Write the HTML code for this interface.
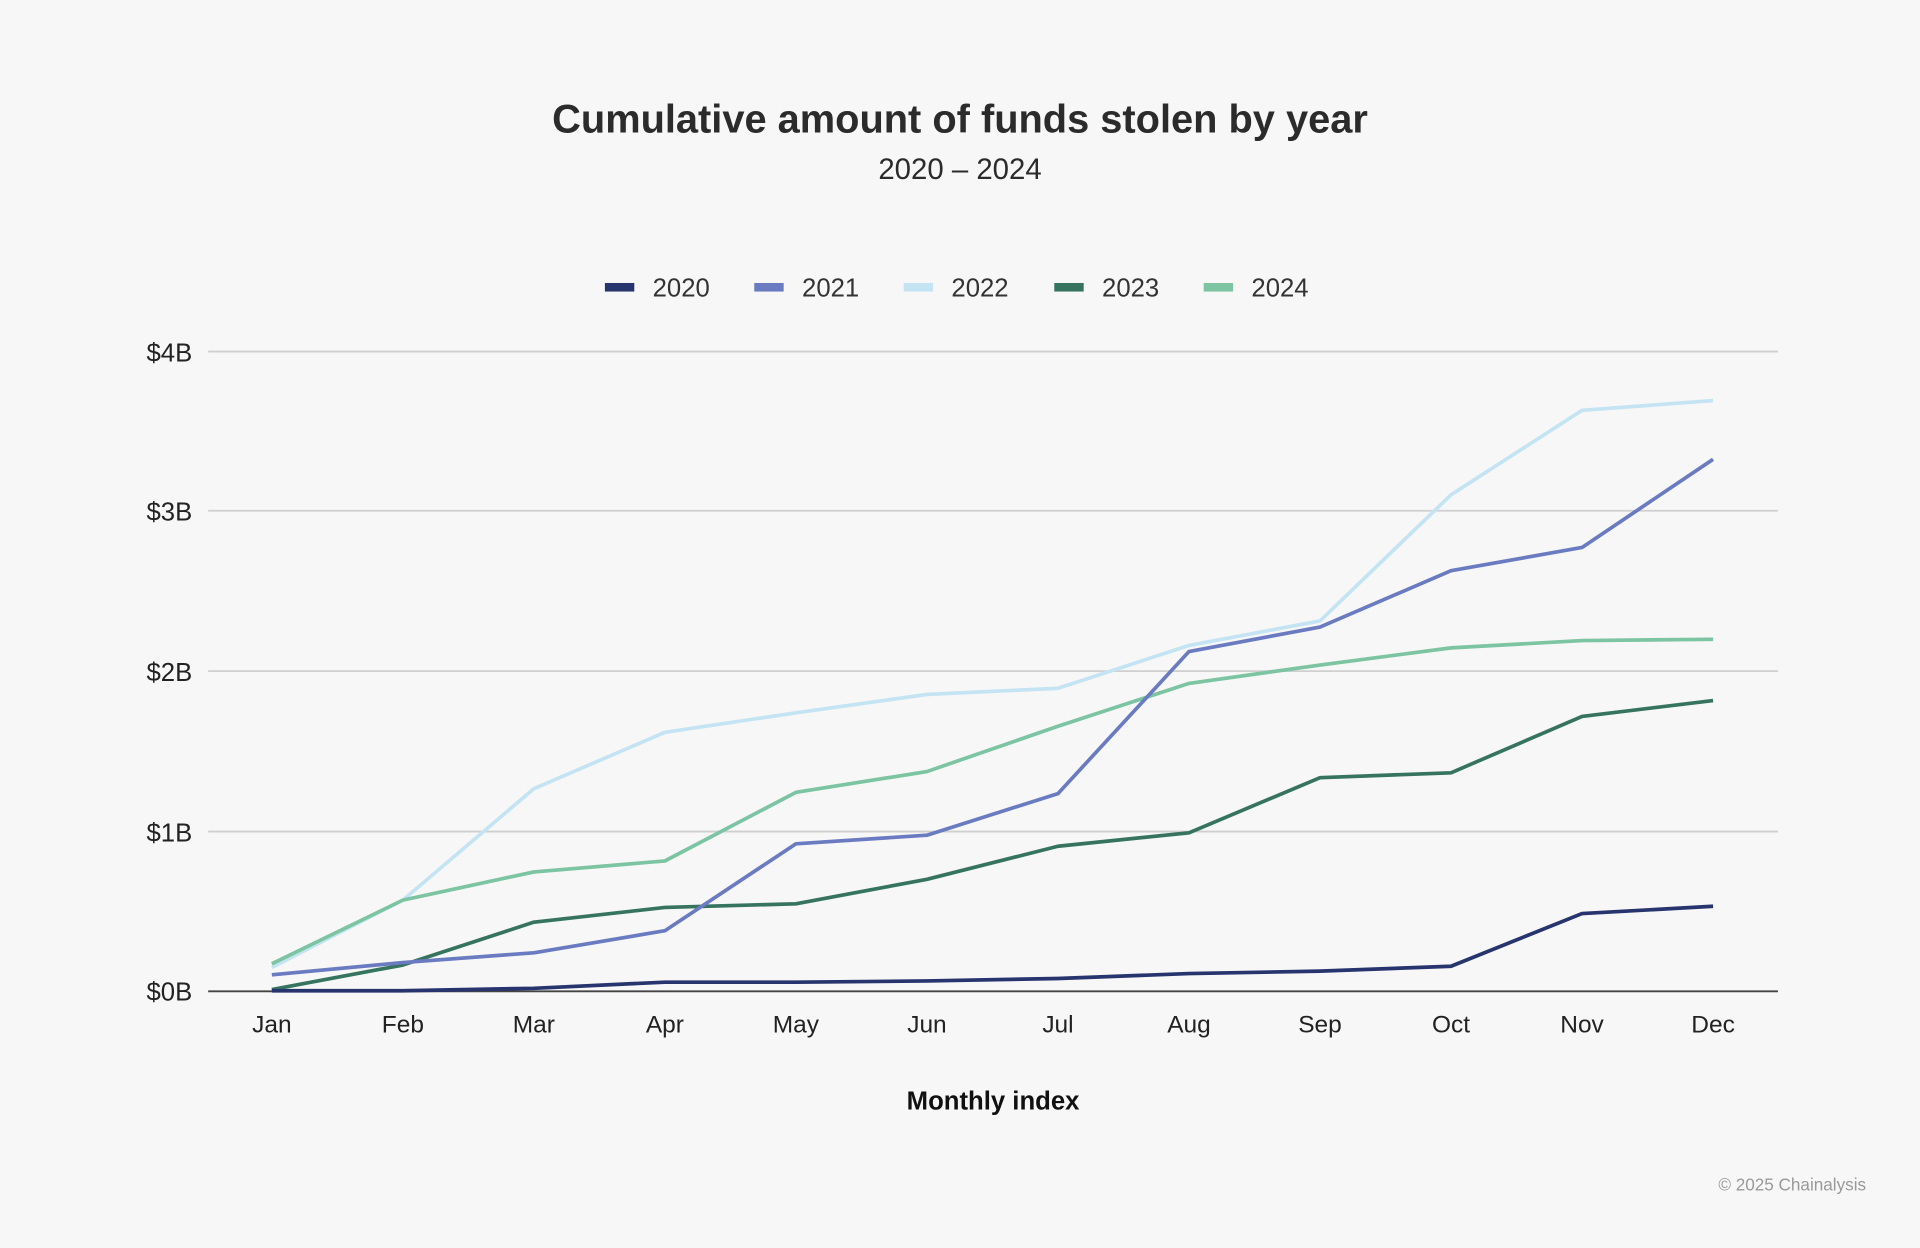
<!DOCTYPE html>
<html><head><meta charset="utf-8"><style>
html,body{margin:0;padding:0;background:#f7f7f7;}
svg{display:block;}
</style></head><body>
<svg width="1920" height="1248" viewBox="0 0 1568 1019" xmlns="http://www.w3.org/2000/svg">
<rect width="1568" height="1019" fill="#f7f7f7"/>
<text x="784" y="108" text-anchor="middle" font-family="Liberation Sans, sans-serif" font-weight="bold" font-size="32.5" fill="#2b2b2b">Cumulative amount of funds stolen by year</text>
<text x="784" y="146" text-anchor="middle" font-family="Liberation Sans, sans-serif" font-size="24" fill="#2b2b2b">2020 – 2024</text>
<g font-family="Liberation Sans, sans-serif" font-size="21" fill="#333">
<rect x="494" y="231" width="24" height="7" fill="#27346e"/><text x="533" y="242">2020</text>
<rect x="616" y="231" width="24" height="7" fill="#6a7bc1"/><text x="655" y="242">2021</text>
<rect x="738" y="231" width="24" height="7" fill="#c4e4f3"/><text x="777" y="242">2022</text>
<rect x="861" y="231" width="24" height="7" fill="#367460"/><text x="900" y="242">2023</text>
<rect x="983" y="231" width="24" height="7" fill="#7cc4a2"/><text x="1022" y="242">2024</text>
</g>
<g stroke="#cfcfcf" stroke-width="1.5">
<line x1="170" y1="287" x2="1452" y2="287"/>
<line x1="170" y1="417" x2="1452" y2="417"/>
<line x1="170" y1="548" x2="1452" y2="548"/>
<line x1="170" y1="679" x2="1452" y2="679"/>
</g>
<line x1="170" y1="809.5" x2="1452" y2="809.5" stroke="#444" stroke-width="1.5"/>
<g font-family="Liberation Sans, sans-serif" font-size="21" fill="#222" text-anchor="end">
<text x="157" y="295">$4B</text><text x="157" y="425">$3B</text><text x="157" y="556">$2B</text><text x="157" y="687">$1B</text><text x="157" y="817">$0B</text>
</g>
<g font-family="Liberation Sans, sans-serif" font-size="20" fill="#222" text-anchor="middle">
<text x="222" y="843">Jan</text><text x="329" y="843">Feb</text><text x="436" y="843">Mar</text><text x="543" y="843">Apr</text><text x="650" y="843">May</text><text x="757" y="843">Jun</text><text x="864" y="843">Jul</text><text x="971" y="843">Aug</text><text x="1078" y="843">Sep</text><text x="1185" y="843">Oct</text><text x="1292" y="843">Nov</text><text x="1399" y="843">Dec</text>
</g>
<text x="811" y="906" text-anchor="middle" font-family="Liberation Sans, sans-serif" font-weight="bold" font-size="21" fill="#111">Monthly index</text>
<text x="1524" y="972" text-anchor="end" font-family="Liberation Sans, sans-serif" font-size="14" fill="#999">© 2025 Chainalysis</text>
<g fill="none" stroke-width="3" stroke-linejoin="round">
<polyline stroke="#c4e4f3" points="222,790 329,735 436,644 543,598 650,582 757,567 864,562 971,527 1078,507 1185,404 1292,335 1399,327"/>
<polyline stroke="#7cc4a2" points="222,787 329,735 436,712 543,703 650,647 757,630 864,593 971,558 1078,543 1185,529 1292,523 1399,522"/>
<polyline stroke="#367460" points="222,808 329,788 436,753 543,741 650,738 757,718 864,691 971,680 1078,635 1185,631 1292,585 1399,572"/>
<polyline stroke="#6a7bc1" points="222,796 329,786 436,778 543,760 650,689 757,682 864,648 971,532 1078,512 1185,466 1292,447 1399,375"/>
<polyline stroke="#27346e" points="222,809 329,809 436,807 543,802 650,802 757,801 864,799 971,795 1078,793 1185,789 1292,746 1399,740"/>
</g>
</svg>
</body></html>
